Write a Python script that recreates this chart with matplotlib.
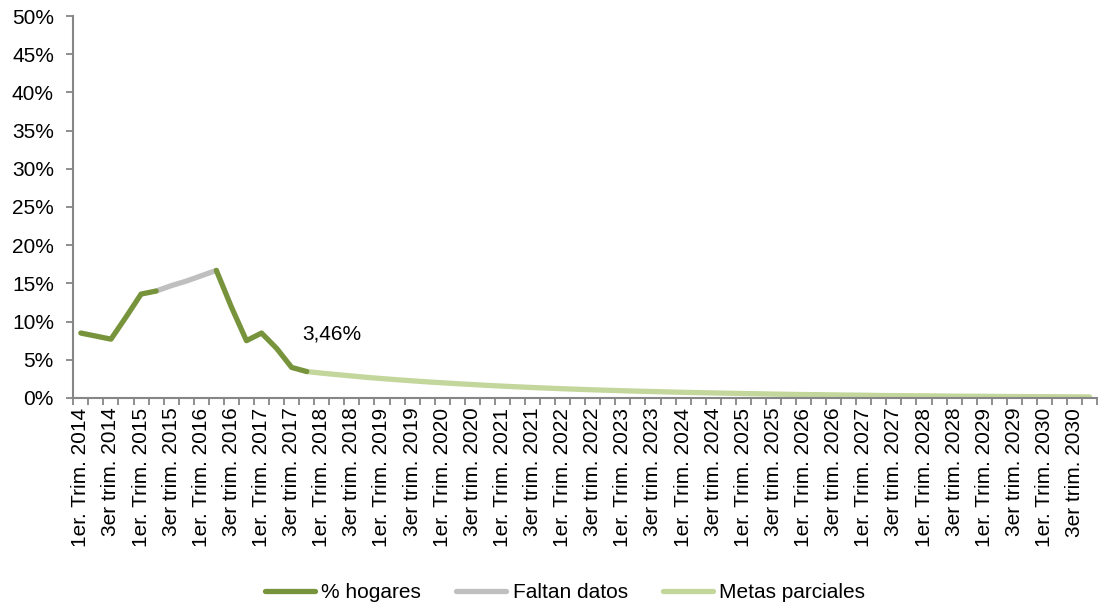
import numpy as np
import matplotlib.pyplot as plt
from matplotlib.ticker import FuncFormatter

plt.rcParams["font.family"] = ["Liberation Sans", "DejaVu Sans"]

# ===== DATOS =====
years = list(range(2014, 2031))
quarters = ["1er. Trim.", "2do trim.", "3er trim.", "4to trim."]
categories = [f"{q} {y}" for y in years for q in quarters]

# % hogares (indices 0..15, hueco 6..8)
hogares = [8.5, 8.1, 7.7, 10.6, 13.6, 14.0, np.nan, np.nan, np.nan,
           16.7, 11.9, 7.5, 8.5, 6.5, 4.0, 3.46]

# Faltan datos (indices 5..9)
faltan_start = 5
faltan = [14.0, 14.7, 15.3, 16.0, 16.7]

# Metas parciales (indices 15..67)
metas_start = 15
metas = [3.46, 3.25, 3.06, 2.88, 2.70, 2.54, 2.39, 2.25, 2.11, 1.99,
         1.87, 1.76, 1.65, 1.55, 1.46, 1.37, 1.29, 1.21, 1.14, 1.07,
         1.01, 0.95, 0.89, 0.84, 0.79, 0.74, 0.70, 0.66, 0.62, 0.58,
         0.55, 0.51, 0.48, 0.45, 0.43, 0.40, 0.38, 0.36, 0.33, 0.31,
         0.29, 0.28, 0.26, 0.24, 0.23, 0.22, 0.20, 0.19, 0.18, 0.17,
         0.16, 0.15, 0.14]

label_text = "3,46%"

dark = "#77933C"
grey = "#BFBFBF"
light = "#C3D69B"
axis_col = "#868686"
fs = 15

# ===== GRAFICO =====
fig = plt.figure(figsize=(11.06, 6.09), dpi=100)
ax = fig.add_axes([0.0663, 0.3465, 0.9257, 0.6272])

x_metas = np.arange(metas_start, metas_start + len(metas))
x_falt = np.arange(faltan_start, faltan_start + len(faltan))
x_hog = np.arange(len(hogares))

ax.plot(x_metas, metas, color=light, lw=3.8, solid_capstyle="round",
        solid_joinstyle="round", label="Metas parciales", zorder=2)
ax.plot(x_falt, faltan, color=grey, lw=3.8, solid_capstyle="round",
        solid_joinstyle="round", label="Faltan datos", zorder=2)
ax.plot(x_hog, hogares, color=dark, lw=3.8, solid_capstyle="round",
        solid_joinstyle="round", label="% hogares", zorder=3)

ax.annotate(label_text, xy=(metas_start, metas[0]), xytext=(25, 38),
            textcoords="offset pixels", ha="center", va="center",
            fontsize=fs, color="black")

ax.set_xlim(-0.5, len(categories) - 0.5)
ax.set_ylim(0, 50)
ax.set_yticks(np.arange(0, 51, 5))
ax.yaxis.set_major_formatter(FuncFormatter(lambda v, p: f"{v:.0f}%"))

ax.set_xticks(np.arange(0, len(categories), 2))
ax.set_xticklabels(categories[::2], rotation=90, fontsize=fs)
ax.set_xticks(np.arange(-0.5, len(categories)), minor=True)
ax.tick_params(axis="x", which="major", length=0, pad=7)
ax.tick_params(axis="x", which="minor", length=5, width=1.3, color=axis_col,
               direction="out")
ax.tick_params(axis="y", length=5, width=1.3, color=axis_col, pad=9,
               labelsize=fs)

for s in ["top", "right"]:
    ax.spines[s].set_visible(False)
for s in ["left", "bottom"]:
    ax.spines[s].set_color(axis_col)
    ax.spines[s].set_linewidth(1.5)

handles, labels = ax.get_legend_handles_labels()
order = [2, 1, 0]
fig.legend([handles[i] for i in order], [labels[i] for i in order],
           loc="center", bbox_to_anchor=(0.511, 0.027), ncol=3, frameon=False,
           fontsize=fs, handlelength=2.4, handletextpad=0.3,
           columnspacing=1.7)

plt.savefig("out.png", dpi=100)
plt.close()
